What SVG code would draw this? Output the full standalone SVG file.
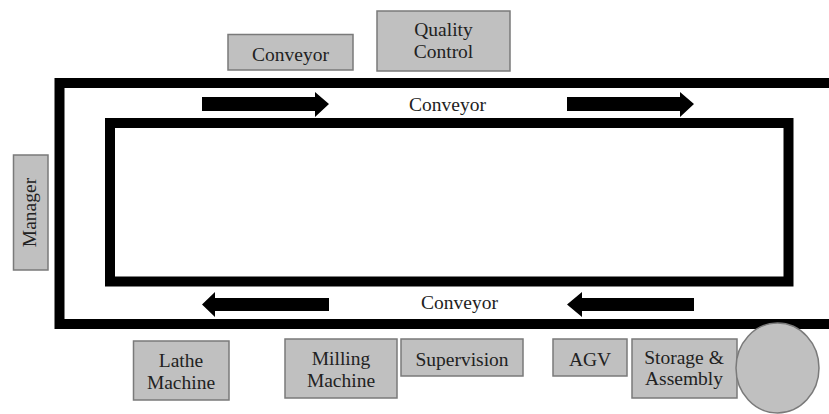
<svg xmlns="http://www.w3.org/2000/svg" width="829" height="414" viewBox="0 0 829 414">
<defs>
<style>
.box{fill:#c0c0c0;stroke:#7a7a7a;stroke-width:1.5}
.t{font-family:"Liberation Serif","Times New Roman",serif;font-size:19.5px;fill:#222;text-anchor:middle}
.frame{fill:none;stroke:#000;stroke-width:10}
.arr{fill:#000}
</style>
</defs>
<rect width="829" height="414" fill="#fff"/>
<g id="conveyor-loop">
<rect class="frame" x="59.5" y="83" width="785" height="241"/>
<rect class="frame" x="110" y="123" width="678.5" height="158.5"/>
</g>
<g id="connectors">
<polygon class="arr" points="202,97 315,97 315,92 329,104 315,117 315,111 202,111"/>
<polygon class="arr" points="567,97 680,97 680,92 694,104 680,117 680,111 567,111"/>
<polygon class="arr" points="329,298 215,298 215,292 202,304.5 215,317 215,311 329,311"/>
<polygon class="arr" points="694,298 582,298 582,292 567,304.5 582,317 582,311 694,311"/>
</g>
<g id="label-conveyor-top"><text class="t" x="447.5" y="111">Conveyor</text></g>
<g id="label-conveyor-bottom"><text class="t" x="459.5" y="309">Conveyor</text></g>
<g id="node-conveyor">
<rect class="box" x="228" y="34.5" width="125" height="35.5"/>
<text class="t" x="290.5" y="61">Conveyor</text>
</g>
<g id="node-quality-control">
<rect class="box" x="377" y="11" width="133" height="60"/>
<text class="t" x="443.5" y="36">Quality</text>
<text class="t" x="443.5" y="58">Control</text>
</g>
<g id="node-manager">
<rect class="box" x="13.5" y="155" width="34.5" height="115"/>
<text class="t" transform="translate(36,212.5) rotate(-90)" x="0" y="0">Manager</text>
</g>
<g id="node-lathe">
<rect class="box" x="133.5" y="341" width="95.5" height="59"/>
<text class="t" x="181" y="367">Lathe</text>
<text class="t" x="181" y="389">Machine</text>
</g>
<g id="node-milling">
<rect class="box" x="285" y="339" width="112" height="59"/>
<text class="t" x="341" y="365">Milling</text>
<text class="t" x="341" y="387">Machine</text>
</g>
<g id="node-supervision">
<rect class="box" x="401" y="339" width="122" height="37"/>
<text class="t" x="462" y="366">Supervision</text>
</g>
<g id="node-agv">
<rect class="box" x="553" y="339" width="74" height="37"/>
<text class="t" x="590" y="366">AGV</text>
</g>
<g id="node-storage">
<rect class="box" x="632" y="339" width="105" height="59"/>
<text class="t" x="684" y="364">Storage &amp;</text>
<text class="t" x="684" y="385">Assembly</text>
</g>
<g id="node-circle">
<ellipse class="box" cx="777.5" cy="368" rx="41.5" ry="45"/>
</g>
</svg>
